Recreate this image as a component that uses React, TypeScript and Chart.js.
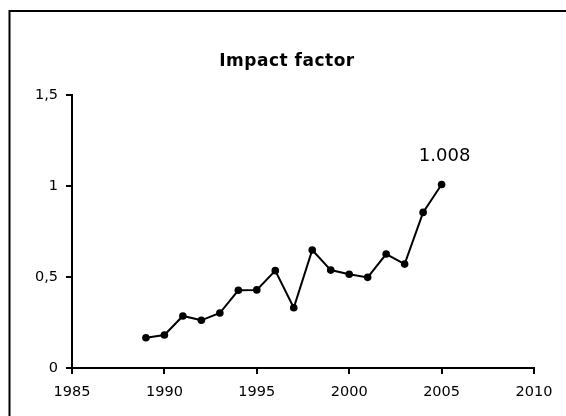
import React, { useEffect, useRef } from "react";
import { Chart, registerables } from "chart.js";

Chart.register(...registerables);

const years = [1989, 1990, 1991, 1992, 1993, 1994, 1995, 1996, 1997, 1998, 1999, 2000, 2001, 2002, 2003, 2004, 2005];
const impact = [0.166, 0.181, 0.286, 0.262, 0.302, 0.427, 0.429, 0.535, 0.331, 0.648, 0.538, 0.515, 0.498, 0.626, 0.571, 0.855, 1.008];
const chartTitle = "Impact factor";
const lastLabel = "1.008";
const xTicks = [1985, 1990, 1995, 2000, 2005, 2010];
const yTicks = [0, 0.5, 1, 1.5];

const FONT = '"DejaVu Sans", Verdana, sans-serif';

const decorPlugin = {
  id: "decor",
  beforeDraw(chart: any) {
    const ctx = chart.ctx;
    ctx.save();
    ctx.fillStyle = "#fff";
    ctx.fillRect(0, 0, chart.width, chart.height);
    ctx.strokeStyle = "#000";
    ctx.lineWidth = 2;
    ctx.beginPath();
    ctx.moveTo(9.5, chart.height);
    ctx.lineTo(9.5, 11);
    ctx.lineTo(chart.width, 11);
    ctx.stroke();
    ctx.restore();
  },
  afterDraw(chart: any) {
    const ctx = chart.ctx;
    ctx.save();
    ctx.fillStyle = "#000";
    ctx.font = `bold 17px ${FONT}`;
    (ctx as any).letterSpacing = "0.5px";
    ctx.textAlign = "center";
    ctx.textBaseline = "middle";
    ctx.fillText(chartTitle, 287, 62);
    (ctx as any).letterSpacing = "0px";
    const meta = chart.getDatasetMeta(0);
    const pt = meta.data[meta.data.length - 1];
    ctx.font = `18px ${FONT}`;
    ctx.fillText(lastLabel, pt.x + 3, pt.y - 28);
    ctx.restore();
  },
};

export default function App() {
  const ref = useRef<HTMLCanvasElement>(null);
  useEffect(() => {
    if (!ref.current) return;
    const chart = new Chart(ref.current, {
      type: "line",
      data: {
        datasets: [
          {
            data: years.map((y, i) => ({ x: y, y: impact[i] })),
            borderColor: "#000",
            backgroundColor: "#000",
            borderWidth: 2,
            pointRadius: 3.8,
            pointBackgroundColor: "#000",
            pointBorderWidth: 0,
            tension: 0,
          },
        ],
      },
      options: {
        animation: false,
        responsive: false,
        layout: { padding: { top: 95, right: 32, left: 0, bottom: 0 } },
        plugins: { legend: { display: false }, tooltip: { enabled: false }, title: { display: false } },
        scales: {
          x: {
            type: "linear",
            min: xTicks[0],
            max: xTicks[xTicks.length - 1],
            afterBuildTicks: (s: any) => {
              s.ticks = xTicks.map((v) => ({ value: v }));
            },
            afterFit: (s: any) => {
              s.height = 48;
            },
            ticks: {
              color: "#000",
              font: { family: FONT, size: 14.5 },
              padding: 10,
              maxRotation: 0,
              callback: (v: any) => String(v),
            },
            grid: { display: true, drawOnChartArea: false, drawTicks: true, tickLength: 6, color: "#000", lineWidth: 2 },
            border: { display: true, color: "#000", width: 2 },
          },
          y: {
            type: "linear",
            min: yTicks[0],
            max: yTicks[yTicks.length - 1],
            afterBuildTicks: (s: any) => {
              s.ticks = yTicks.map((v) => ({ value: v }));
            },
            afterFit: (s: any) => {
              s.width = 72;
            },
            ticks: {
              color: "#000",
              font: { family: FONT, size: 14.5 },
              padding: 8,
              callback: (v: any) => String(v).replace(".", ","),
            },
            grid: { display: true, drawOnChartArea: false, drawTicks: true, tickLength: 6, color: "#000", lineWidth: 2 },
            border: { display: true, color: "#000", width: 2 },
          },
        },
      },
      plugins: [decorPlugin],
    } as any);
    return () => chart.destroy();
  }, []);
  return (
    <div style={{ position: "absolute", left: 0, top: 0, width: 566, height: 416, background: "#fff" }}>
      <canvas ref={ref} width={566} height={416} style={{ display: "block" }} />
    </div>
  );
}
